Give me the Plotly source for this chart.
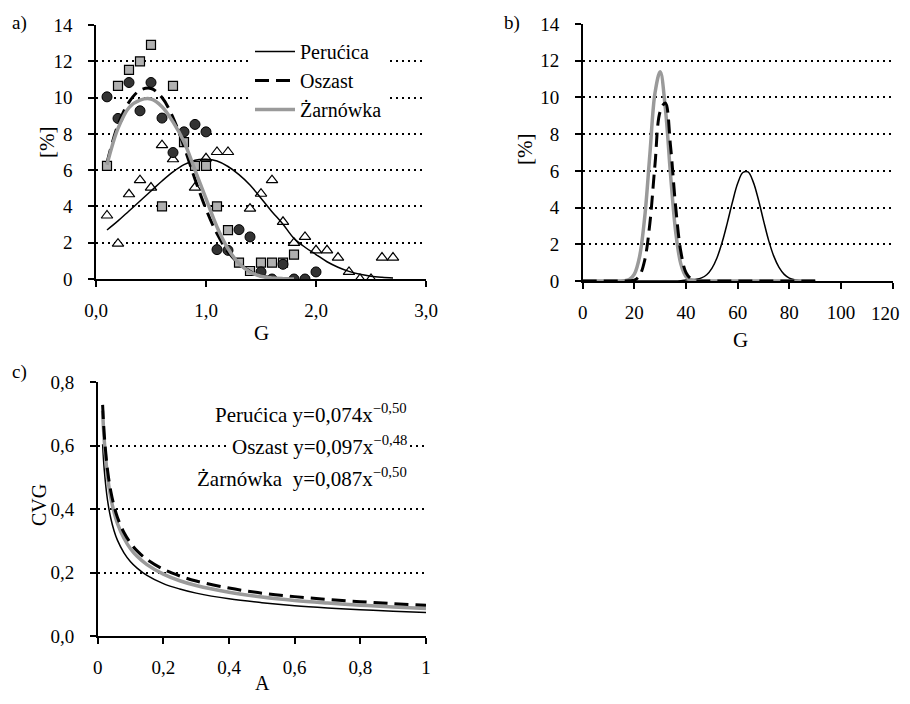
import plotly.graph_objects as go

# ---------- Panel a: observed points ----------
per_x = [0.1, 0.2, 0.3, 0.4, 0.5, 0.6, 0.7, 0.9, 1.0, 1.1, 1.2, 1.4, 1.5, 1.6, 1.7,
         1.8, 1.9, 2.0, 2.1, 2.2, 2.3, 2.4, 2.5, 2.6, 2.7]
per_y = [3.5, 1.95, 4.67, 5.45, 5.04, 7.38, 6.6, 5.04, 6.65, 7.0, 7.0, 3.88, 4.7, 5.45, 3.15,
         1.99, 2.32, 1.58, 1.58, 1.18, 0.39, 0.0, 0.0, 1.18, 1.18]

osz_x = [0.1, 0.2, 0.3, 0.4, 0.5, 0.6, 0.7, 0.8, 0.9, 1.0, 1.1, 1.2, 1.3, 1.4, 1.5,
         1.6, 1.7, 1.8, 1.9, 2.0]
osz_y = [10.04, 8.85, 10.83, 9.27, 10.83, 8.87, 6.97, 8.11, 8.52, 8.11, 1.62, 1.58, 2.72, 2.32, 0.39,
         0.0, 0.81, 0.0, 0.0, 0.39]

zar_x = [0.1, 0.2, 0.3, 0.4, 0.5, 0.6, 0.7, 0.8, 0.9, 1.0, 1.1, 1.2, 1.3, 1.4, 1.5,
         1.6, 1.7, 1.8]
zar_y = [6.24, 10.65, 11.53, 12.0, 12.9, 4.0, 10.65, 7.54, 6.24, 6.24, 4.0, 2.69, 0.9, 0.44, 0.9,
         0.9, 0.9, 1.34]

# ---------- Panel a: fitted curves ----------
fit_per_x = [0.1, 0.2, 0.3, 0.4, 0.5, 0.6, 0.7, 0.8, 0.9, 1.0, 1.1, 1.2, 1.3, 1.4, 1.5, 1.6,
             1.7, 1.8, 1.9, 2.0, 2.1, 2.2, 2.3, 2.4, 2.5, 2.6, 2.7]
fit_per_y = [2.7, 3.2, 3.75, 4.3, 4.85, 5.4, 5.9, 6.3, 6.55, 6.6, 6.5, 6.2, 5.75, 5.18, 4.45, 3.71,
             3.02, 2.24, 1.75, 1.35, 0.95, 0.65, 0.42, 0.26, 0.15, 0.09, 0.05]

fit_osz_x = [0.1, 0.2, 0.3, 0.4, 0.5, 0.6, 0.7, 0.8, 0.9, 1.0, 1.1, 1.2, 1.3, 1.4, 1.5, 1.6, 1.7, 1.8]
fit_osz_y = [6.4, 8.5, 9.75, 10.4, 10.5, 10.0, 8.9, 7.3, 5.5, 3.85, 2.5, 1.5, 0.85, 0.42, 0.18, 0.07, 0.02, 0.0]

fit_zar_x = [0.1, 0.2, 0.3, 0.4, 0.5, 0.6, 0.7, 0.8, 0.9, 1.0, 1.1, 1.2, 1.3, 1.4, 1.5, 1.6, 1.7, 1.8]
fit_zar_y = [6.3, 8.3, 9.45, 9.86, 9.92, 9.5, 8.66, 7.56, 6.0, 4.43, 2.87, 1.67, 0.85, 0.39, 0.15, 0.06, 0.02, 0.0]

# ---------- Panel b ----------
b_x = [0, 2, 4, 6, 8, 10, 12, 14, 16, 18, 20, 22, 24, 26, 28, 30, 32, 34, 36, 38, 40, 42, 44,
       46, 48, 50, 52, 54, 56, 58, 60, 62, 64, 66, 68, 70, 72, 74, 76, 78, 80, 82, 84, 86, 88, 90]
b_per = [0, 0, 0, 0, 0, 0, 0, 0, 0, 0, 0, 0, 0, 0, 0, 0, 0, 0, 0, 0.02, 0.05, 0.08, 0.1,
         0.17, 0.34, 0.69, 1.27, 2.12, 3.18, 4.32, 5.32, 5.91, 5.94, 5.4, 4.44, 3.29, 2.2, 1.34,
         0.74, 0.36, 0.16, 0.07, 0.03, 0.01, 0, 0]
b_osz = [0, 0, 0, 0, 0, 0, 0, 0, 0, 0.01, 0.05, 0.29, 1.13, 3.14, 6.37, 9.24, 9.7, 7.35, 4.02,
         1.59, 0.45, 0.12, 0.02, 0, 0, 0, 0, 0, 0, 0, 0, 0, 0, 0, 0, 0, 0, 0, 0, 0, 0, 0, 0, 0, 0, 0]
b_zar = [0, 0, 0, 0, 0, 0, 0, 0, 0.01, 0.08, 0.37, 1.31, 3.47, 6.9, 10.26, 11.4, 9.4, 5.8, 2.67,
         0.92, 0.24, 0.05, 0, 0, 0, 0, 0, 0, 0, 0, 0, 0, 0, 0, 0, 0, 0, 0, 0, 0, 0, 0, 0, 0, 0, 0]
b_ticks = [0, 20, 40, 60, 80, 100, 120]

# ---------- Panel c ----------
c_x = [0.015, 0.02, 0.03, 0.04, 0.05, 0.06, 0.08, 0.1, 0.12, 0.15, 0.2, 0.25, 0.3, 0.4, 0.5,
       0.6, 0.7, 0.8, 0.9, 1.0]
c_per = [0.604, 0.523, 0.427, 0.37, 0.331, 0.302, 0.262, 0.234, 0.214, 0.191, 0.165, 0.148,
         0.135, 0.117, 0.105, 0.0955, 0.0884, 0.0827, 0.078, 0.074]
c_osz = [0.728, 0.634, 0.522, 0.455, 0.409, 0.374, 0.326, 0.293, 0.268, 0.241, 0.21, 0.189,
         0.173, 0.151, 0.135, 0.124, 0.115, 0.108, 0.102, 0.097]
c_zar = [0.71, 0.615, 0.502, 0.435, 0.389, 0.355, 0.308, 0.275, 0.251, 0.225, 0.195, 0.174,
         0.159, 0.138, 0.123, 0.112, 0.104, 0.097, 0.0917, 0.087]

names = ["Perućica", "Oszast", "Żarnówka"]
eq_rows = ["Perućica y=0,074x<sup>−0,50</sup>",
           "Oszast y=0,097x<sup>−0,48</sup>",
           "Żarnówka  y=0,087x<sup>−0,50</sup>"]

FONT = "Liberation Serif"
GRAY = "#9a9a9a"

line_per = dict(color="black", width=1.5)
line_osz = dict(color="black", width=3, dash="14px,7px")
line_zar = dict(color=GRAY, width=3.5)

fig = go.Figure()

# Panel a markers
fig.add_trace(go.Scatter(x=per_x, y=per_y, mode="markers", showlegend=False,
                         marker=dict(symbol="triangle-up", size=10, color="white",
                                     line=dict(color="black", width=1.2)),
                         xaxis="x", yaxis="y"))
fig.add_trace(go.Scatter(x=zar_x, y=zar_y, mode="markers", showlegend=False,
                         marker=dict(symbol="square", size=9, color="#b0b0b0",
                                     line=dict(color="black", width=1.2)),
                         xaxis="x", yaxis="y"))
fig.add_trace(go.Scatter(x=osz_x, y=osz_y, mode="markers", showlegend=False,
                         marker=dict(symbol="circle", size=10, color="#333333",
                                     line=dict(color="black", width=1)),
                         xaxis="x", yaxis="y"))
# Panel a curves
fig.add_trace(go.Scatter(x=fit_per_x, y=fit_per_y, mode="lines", name=names[0],
                         line=line_per, line_shape="spline", xaxis="x", yaxis="y"))
fig.add_trace(go.Scatter(x=fit_osz_x, y=fit_osz_y, mode="lines", name=names[1],
                         line=line_osz, line_shape="spline", xaxis="x", yaxis="y"))
fig.add_trace(go.Scatter(x=fit_zar_x, y=fit_zar_y, mode="lines", name=names[2],
                         line=line_zar, line_shape="spline", xaxis="x", yaxis="y"))

# Panel b
fig.add_trace(go.Scatter(x=b_x, y=b_per, mode="lines", showlegend=False, line=line_per,
                         line_shape="spline", xaxis="x2", yaxis="y2"))
fig.add_trace(go.Scatter(x=b_x, y=b_zar, mode="lines", showlegend=False, line=line_zar,
                         line_shape="spline", xaxis="x2", yaxis="y2"))
fig.add_trace(go.Scatter(x=b_x, y=b_osz, mode="lines", showlegend=False, line=line_osz,
                         line_shape="spline", xaxis="x2", yaxis="y2"))

# Panel c
fig.add_trace(go.Scatter(x=c_x, y=c_per, mode="lines", showlegend=False, line=line_per,
                         line_shape="spline", xaxis="x3", yaxis="y3"))
fig.add_trace(go.Scatter(x=c_x, y=c_zar, mode="lines", showlegend=False, line=line_zar,
                         line_shape="spline", xaxis="x3", yaxis="y3"))
fig.add_trace(go.Scatter(x=c_x, y=c_osz, mode="lines", showlegend=False, line=line_osz,
                         line_shape="spline", xaxis="x3", yaxis="y3"))

# The page has an 8 px body margin, so the figure is 16 px smaller than the window
OFF = 8
W, H = 910 - 2 * OFF, 704 - 2 * OFF


def px(x):
    return (x - OFF) / W


def py(y):
    return 1 - (y - OFF) / H


def xd(a, b):
    return [px(a), px(b)]


def yd(top, bot):
    return [py(bot), py(top)]


TF = dict(family=FONT, size=19, color="black")
common_x = dict(showline=True, linecolor="black", linewidth=1.5, ticks="outside",
                ticklen=6, tickwidth=1.5, tickcolor="black", showgrid=False,
                zeroline=False, ticklabelstandoff=7, automargin=False, tickfont=TF)
common_y = dict(showline=True, linecolor="black", linewidth=1.5, ticks="outside",
                ticklen=6, tickwidth=1.5, tickcolor="black", showgrid=True,
                gridcolor="black", gridwidth=1.6, griddash="2px,4px", zeroline=False,
                ticklabelstandoff=12, automargin=False, tickfont=TF)

# the last label of panel b (120) would spill past the page edge, so it is
# drawn as an annotation aligned to the edge
b_labels = [str(v) for v in b_ticks[:-1]] + [""]

fig.update_layout(
    width=W, height=H,
    margin=dict(l=0, r=0, t=0, b=0, autoexpand=False),
    paper_bgcolor="white", plot_bgcolor="white",
    separators=", ",
    font=dict(family=FONT, size=19, color="black"),
    xaxis=dict(domain=xd(96, 426), range=[0, 3], dtick=1, tickformat=".1f",
               anchor="y", **common_x),
    yaxis=dict(domain=yd(25, 279), range=[0, 14], dtick=2, anchor="x", **common_y),
    xaxis2=dict(domain=xd(582.7, 892.7), range=[0, 120], tickvals=b_ticks,
                ticktext=b_labels, anchor="y2", **common_x),
    yaxis2=dict(domain=yd(24, 281), range=[0, 14], dtick=2, anchor="x2", **common_y),
    xaxis3=dict(domain=xd(97.7, 426), range=[0, 1], dtick=0.2, anchor="y3", **common_x),
    yaxis3=dict(domain=yd(382, 636), range=[0, 0.8], dtick=0.2, tickformat=".1f",
                anchor="x3", **common_y),
    legend=dict(x=px(250), y=py(32), xanchor="left", yanchor="top",
                bgcolor="white", font=dict(family=FONT, size=20, color="black"),
                tracegroupgap=0, itemwidth=40),
    showlegend=True,
)

fig.add_annotation(text=str(b_ticks[-1]), x=px(902), y=py(313), xref="paper", yref="paper",
                   showarrow=False, xanchor="right", yanchor="middle", font=TF)

ann = [
    dict(text="a)", x=19, y=23),
    dict(text="b)", x=512, y=23),
    dict(text="c)", x=19, y=372),
    dict(text="G", x=261, y=333, size=21),
    dict(text="G", x=740, y=340, size=21),
    dict(text="A", x=262, y=683, size=20),
    dict(text="[%]", x=47, y=143, size=21, angle=-90),
    dict(text="[%]", x=525, y=150, size=21, angle=-90),
    dict(text="CVG", x=39, y=505, size=20, angle=-90),
]
for a in ann:
    fig.add_annotation(text=a["text"], x=px(a["x"]), y=py(a["y"]), xref="paper", yref="paper",
                       showarrow=False, xanchor="center", yanchor="middle",
                       textangle=a.get("angle", 0),
                       font=dict(family=FONT, size=a.get("size", 19), color="black"))

# equations in panel c, one row per site
eq_y = [413, 445, 477]
for txt, yy in zip(eq_rows, eq_y):
    fig.add_annotation(text=txt, x=px(410), y=py(yy), xref="paper", yref="paper",
                       showarrow=False, xanchor="right", yanchor="middle", align="right",
                       bgcolor="white", borderpad=2,
                       font=dict(family=FONT, size=21, color="black"))

fig.write_html("out.html")
